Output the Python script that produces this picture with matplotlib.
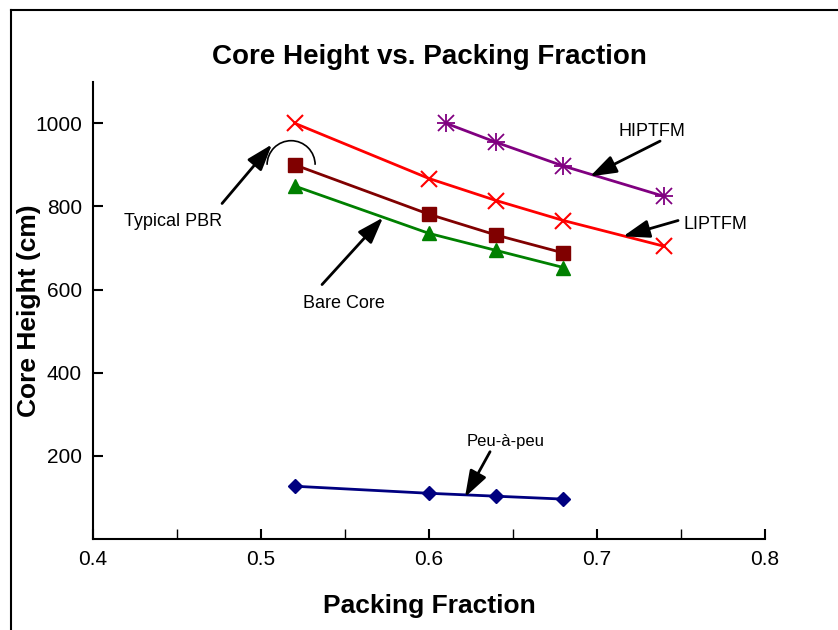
import matplotlib
matplotlib.use("Agg")
import matplotlib.pyplot as plt
from matplotlib.patches import Arc
from matplotlib.lines import Line2D

plt.rcParams['font.family'] = ['Liberation Sans', 'DejaVu Sans']

# data
pf_pbr = [0.52, 0.60, 0.64, 0.68]
h_pbr = [900, 781, 731, 688]

pf_bare = [0.52, 0.60, 0.64, 0.68]
h_bare = [849, 735, 694, 653]

pf_lip = [0.52, 0.60, 0.64, 0.68, 0.74]
h_lip = [1000, 867, 814, 766, 704]

pf_hip = [0.61, 0.64, 0.68, 0.74]
h_hip = [1000, 954, 897, 824]

pf_peu = [0.52, 0.60, 0.64, 0.68]
h_peu = [127, 110, 103, 96]

xticks = [0.4, 0.5, 0.6, 0.7, 0.8]
yticks = [200, 400, 600, 800, 1000]

fig = plt.figure(figsize=(8.38, 6.30), dpi=100)
ax = fig.add_axes([0.111, 0.1444, 0.802, 0.726])

ax.plot(pf_lip, h_lip, '-x', color='#ff0000', lw=2, ms=11, mew=1.5)
ax.plot(pf_hip, h_hip, '-', color='#800080', lw=2)
ax.plot(pf_hip, h_hip, 'x', color='#800080', ms=11, mew=1.3)
ax.plot(pf_hip, h_hip, '+', color='#800080', ms=13, mew=1.3)
ax.plot(pf_pbr, h_pbr, '-s', color='#800000', lw=2, ms=10)
ax.plot(pf_bare, h_bare, '-^', color='#008000', lw=2, ms=10)
ax.plot(pf_peu, h_peu, '-D', color='#000080', lw=2, ms=7)

ax.set_xlim(0.4, 0.8)
ax.set_ylim(0, 1100)
ax.set_xticks(xticks)
ax.set_xticks([0.45, 0.55, 0.65, 0.75], minor=True)
ax.set_yticks(yticks)
ax.tick_params(direction='in', length=7, width=1.5, labelsize=15, pad=8)
ax.tick_params(which='minor', direction='in', length=7, width=1)
ax.spines['top'].set_visible(False)
ax.spines['right'].set_visible(False)
ax.spines['left'].set_linewidth(1.5)
ax.spines['bottom'].set_linewidth(1.5)

ax.set_title('Core Height vs. Packing Fraction', fontsize=20, fontweight='bold', pad=13)
ax.set_xlabel('Packing Fraction', fontsize=19, fontweight='bold')
ax.set_ylabel('Core Height (cm)', fontsize=19, fontweight='bold')
ax.xaxis.set_label_coords(0.5, -0.12)
ax.yaxis.set_label_coords(-0.078, 0.5)

arrow = dict(arrowstyle='-|>,head_length=1.6,head_width=0.55', color='black', lw=2,
             shrinkA=0, shrinkB=0)

ax.annotate('', xy=(0.5065, 949), xytext=(0.4768, 807), arrowprops=arrow)
ax.text(0.4476, 764, 'Typical PBR', fontsize=13, ha='center', va='center')
ax.add_patch(Arc((0.5179, 900), 0.0286, 116, theta1=-15, theta2=140, color='black', lw=1.2))
ax.annotate('', xy=(0.5726, 773), xytext=(0.5363, 612), arrowprops=arrow)
ax.text(0.5494, 566, 'Bare Core', fontsize=13, ha='center', va='center')
ax.annotate('', xy=(0.6958, 872), xytext=(0.7375, 957), arrowprops=arrow)
ax.text(0.7327, 981, 'HIPTFM', fontsize=13, ha='center', va='center')
ax.annotate('', xy=(0.7155, 728), xytext=(0.7482, 766), arrowprops=arrow)
ax.text(0.7512, 757, 'LIPTFM', fontsize=13, ha='left', va='center')
ax.annotate('', xy=(0.6214, 101), xytext=(0.6363, 210), arrowprops=arrow)
ax.text(0.6458, 234, 'Peu-à-peu', fontsize=12, ha='center', va='center')

# outer frame (top and left edges visible)
fig.add_artist(Line2D([0.013, 1.0], [0.984, 0.984], transform=fig.transFigure, color='black', lw=1.5))
fig.add_artist(Line2D([0.013, 0.013], [0.0, 0.984], transform=fig.transFigure, color='black', lw=1.5))

fig.savefig('out.png', dpi=100)
